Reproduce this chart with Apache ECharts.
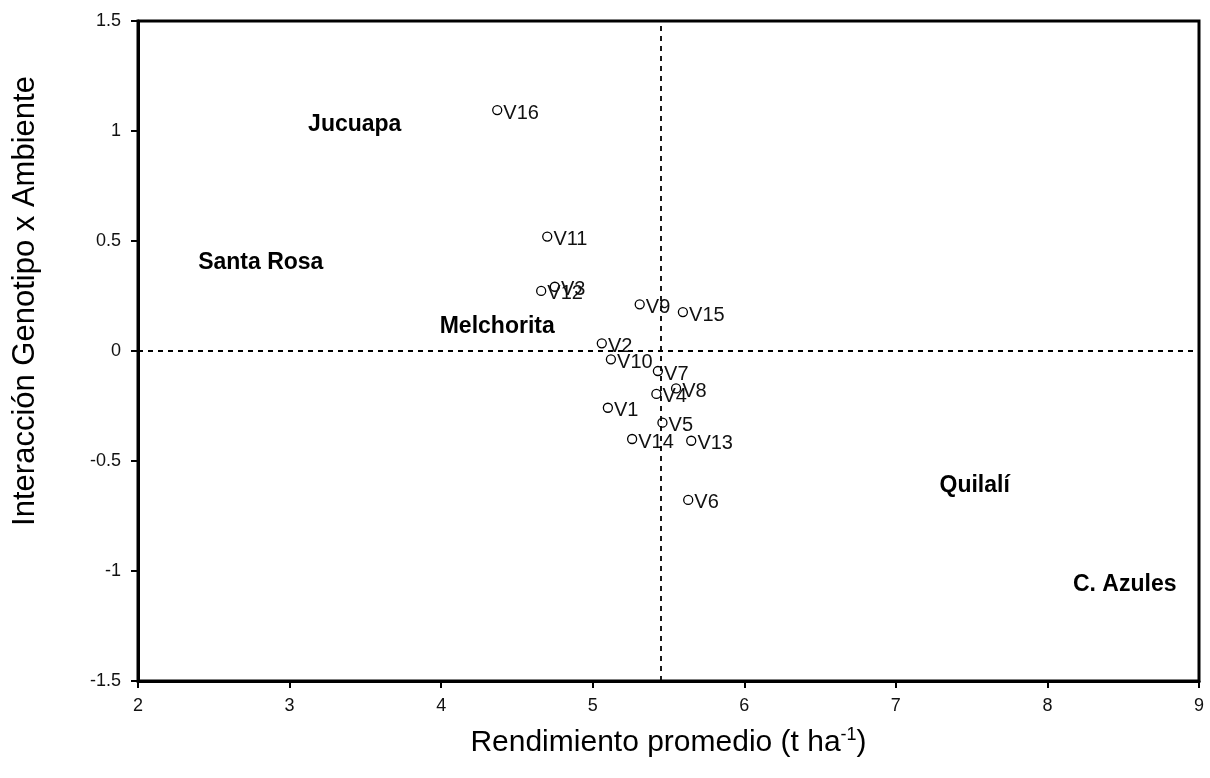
<!DOCTYPE html>
<html>
<head>
<meta charset="utf-8">
<script src="https://cdn.jsdelivr.net/npm/echarts@6/dist/echarts.min.js"></script>
<style>
  html, body { margin: 0; padding: 0; background: #fff; }
  #chart { width: 1210px; height: 778px; }
</style>
</head>
<body>
<div id="chart"></div>
<script>
// Genotypes: mean yield (t/ha) vs G x E interaction score
const genotypes = ['V1','V2','V3','V4','V5','V6','V7','V8','V9','V10','V11','V12','V13','V14','V15','V16'];
const yieldMean = [5.10, 5.06, 4.75, 5.42, 5.46, 5.63, 5.43, 5.55, 5.31, 5.12, 4.70, 4.66, 5.65, 5.26, 5.595, 4.37];
const interaction = [-0.258, 0.035, 0.292, -0.195, -0.326, -0.677, -0.091, -0.17, 0.212, -0.038, 0.52, 0.273, -0.408, -0.40, 0.177, 1.095];

// Environments placed in the same plane
const environments = ['Jucuapa', 'Santa Rosa', 'Melchorita', 'Quilalí', 'C. Azules'];
const envX = [3.43, 2.81, 4.37, 7.52, 8.51];
const envY = [1.03, 0.40, 0.109, -0.614, -1.064];

// Reference lines: overall mean yield and zero interaction
const meanYield = 5.45;
const zeroInteraction = 0;

const xTicks = { min: 2, max: 9, interval: 1 };
const yTicks = { min: -1.5, max: 1.5, interval: 0.5 };

const xTitle = 'Rendimiento promedio (t ha';
const yTitle = 'Interacción Genotipo x Ambiente';

const genoData = genotypes.map((g, i) => ({ name: g, value: [yieldMean[i], interaction[i]] }));
const envData = environments.map((e, i) => ({ name: e, value: [envX[i], envY[i]] }));

const chart = echarts.init(document.getElementById('chart'), null, { renderer: 'canvas' });
const font = 'Liberation Sans, Arial, sans-serif';

chart.setOption({
  backgroundColor: '#fff',
  animation: false,
  grid: { left: 138, right: 11, top: 21, bottom: 97, show: true, borderColor: '#000', borderWidth: 3, backgroundColor: 'transparent' },
  xAxis: {
    type: 'value', min: xTicks.min, max: xTicks.max, interval: xTicks.interval,
    axisLine: { show: true, onZero: false, lineStyle: { color: '#000', width: 3 } },
    axisTick: { show: true, length: 7, lineStyle: { color: '#000', width: 2 } },
    axisLabel: { color: '#111', fontFamily: font, fontSize: 18, margin: 16 },
    splitLine: { show: false },
    name: '{a|' + xTitle + '}{sup|-1}{a|)}',
    nameLocation: 'middle', nameGap: 45,
    nameTextStyle: {
      rich: {
        a: { fontFamily: font, fontSize: 30, color: '#000' },
        sup: { fontFamily: font, fontSize: 18, color: '#000', verticalAlign: 'top', padding: [0, 0, 16, 0] }
      }
    }
  },
  yAxis: {
    type: 'value', min: yTicks.min, max: yTicks.max, interval: yTicks.interval,
    axisLine: { show: true, onZero: false, lineStyle: { color: '#000', width: 3 } },
    axisTick: { show: true, length: 7, lineStyle: { color: '#000', width: 2 } },
    axisLabel: { color: '#111', fontFamily: font, fontSize: 18, margin: 17 },
    splitLine: { show: false }
  },
  // Vertical axis title, reading bottom-to-top
  graphic: [{
    type: 'text',
    x: 25, y: 301,
    rotation: Math.PI / 2,
    style: { text: yTitle, fontFamily: font, fontSize: 31, fill: '#000', align: 'center', verticalAlign: 'middle' },
    silent: true
  }],
  series: [
    {
      type: 'scatter',
      data: genoData,
      symbol: 'circle', symbolSize: 9,
      itemStyle: { color: '#fff', borderColor: '#000', borderWidth: 1.3, opacity: 1 },
      label: {
        show: true, position: 'right', distance: 1, offset: [0, 3],
        formatter: p => p.name,
        fontFamily: font, fontSize: 20, color: '#111', opacity: 1
      },
      markLine: {
        silent: true, symbol: 'none',
        lineStyle: { color: '#000', type: [5, 5], width: 1.8 },
        label: { show: false },
        data: [{ xAxis: meanYield }, { yAxis: zeroInteraction }]
      },
      z: 3
    },
    {
      type: 'scatter',
      data: envData,
      symbolSize: 0,
      itemStyle: { opacity: 1 },
      label: {
        show: true, position: 'inside',
        formatter: p => p.name,
        fontFamily: font, fontSize: 23, fontWeight: 'bold', color: '#000',
        textBorderWidth: 0, opacity: 1
      },
      z: 2
    }
  ]
});
</script>
</body>
</html>
